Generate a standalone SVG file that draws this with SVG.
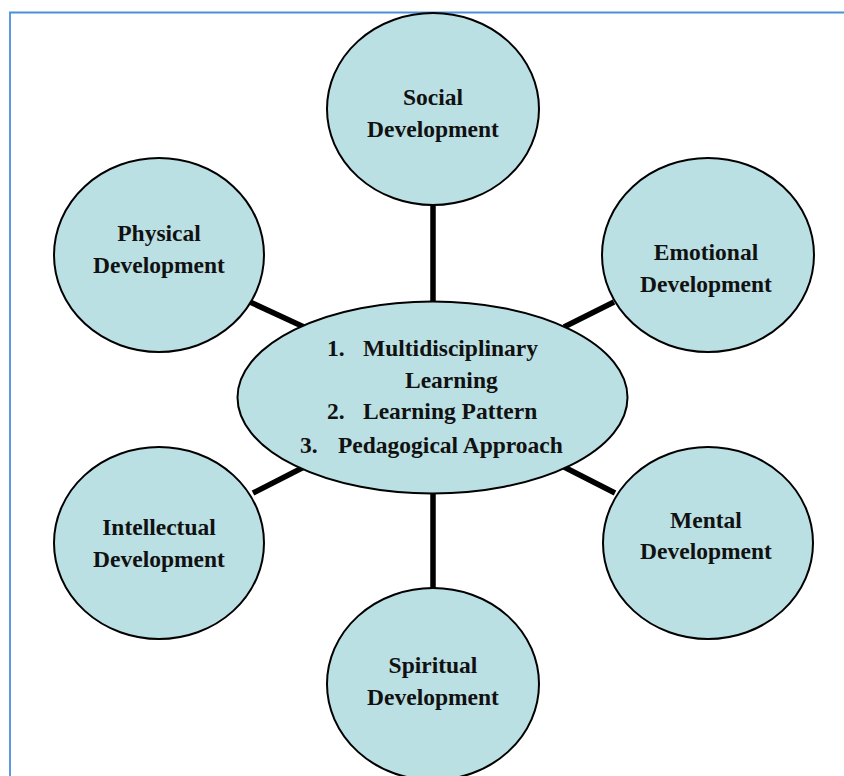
<svg xmlns="http://www.w3.org/2000/svg" width="844" height="776" viewBox="0 0 844 776">
<style>
.node{fill:#bae0e4;stroke:#000;stroke-width:2}
.lbl{font-family:"Liberation Serif","Times New Roman",serif;font-weight:bold;font-size:23.5px;fill:#111}
.c{text-anchor:middle}
.conn line{stroke:#000;stroke-width:5.5}
.frame{stroke:#4a90d9;stroke-width:1.8;fill:none}
</style>
<rect width="844" height="776" fill="#fff"/>
<path class="frame" d="M10,776 V12.5 H844"/>
<g id="connectors" class="conn">
<line x1="433" y1="203" x2="433" y2="303"/>
<line x1="433" y1="492" x2="433" y2="590"/>
<line x1="250" y1="302" x2="304" y2="327"/>
<line x1="614" y1="302" x2="564" y2="327"/>
<line x1="253" y1="493" x2="304" y2="467"/>
<line x1="615" y1="493" x2="564" y2="467"/>
</g>
<g id="social">
<ellipse class="node" cx="433" cy="109" rx="106" ry="96"/>
<text class="lbl c" x="433" y="105">Social</text>
<text class="lbl c" x="433" y="137">Development</text>
</g>
<g id="physical">
<ellipse class="node" cx="159" cy="255" rx="105" ry="97"/>
<text class="lbl c" x="159" y="241">Physical</text>
<text class="lbl c" x="159" y="273">Development</text>
</g>
<g id="emotional">
<ellipse class="node" cx="708" cy="255" rx="106" ry="97"/>
<text class="lbl c" x="706" y="260">Emotional</text>
<text class="lbl c" x="706" y="292">Development</text>
</g>
<g id="intellectual">
<ellipse class="node" cx="159" cy="543" rx="105" ry="96"/>
<text class="lbl c" x="159" y="535">Intellectual</text>
<text class="lbl c" x="159" y="567">Development</text>
</g>
<g id="mental">
<ellipse class="node" cx="708" cy="543" rx="105" ry="96"/>
<text class="lbl c" x="706" y="528">Mental</text>
<text class="lbl c" x="706" y="559">Development</text>
</g>
<g id="spiritual">
<ellipse class="node" cx="433" cy="684" rx="106" ry="96"/>
<text class="lbl c" x="433" y="673">Spiritual</text>
<text class="lbl c" x="433" y="705">Development</text>
</g>
<g id="center">
<ellipse class="node" cx="432.5" cy="397.5" rx="195" ry="96"/>
<text class="lbl" x="327" y="356">1.</text>
<text class="lbl" x="363" y="356">Multidisciplinary</text>
<text class="lbl" x="405" y="388">Learning</text>
<text class="lbl" x="327" y="419">2.</text>
<text class="lbl" x="363" y="419">Learning Pattern</text>
<text class="lbl" x="300" y="453">3.</text>
<text class="lbl" x="338" y="453">Pedagogical Approach</text>
</g>
</svg>
